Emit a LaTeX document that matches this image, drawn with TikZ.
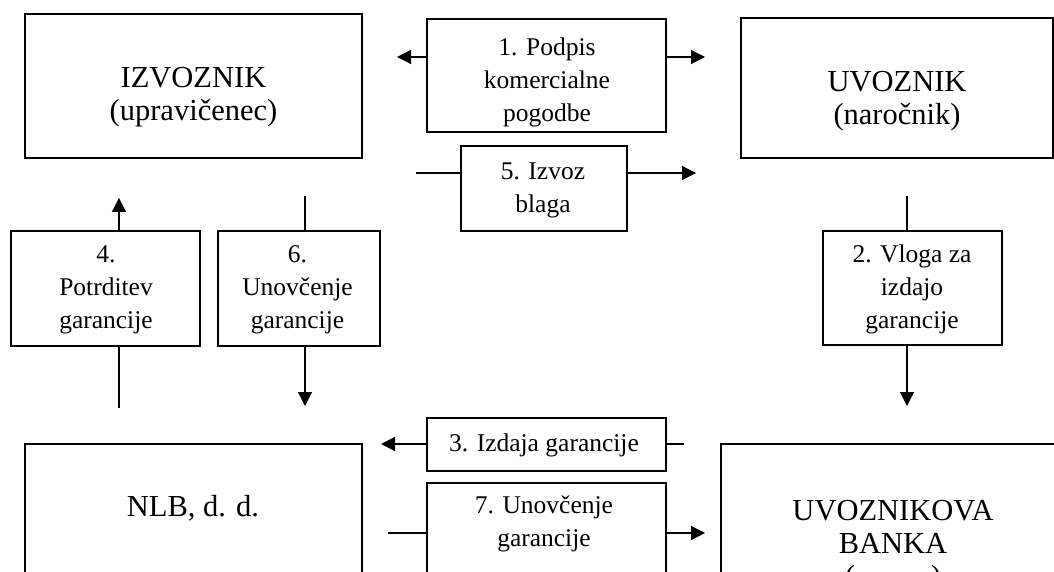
\documentclass[tikz,border=0pt]{standalone}
\usepackage{fontspec}
\setmainfont{Liberation Serif}
\usetikzlibrary{arrows.meta}
\begin{document}
\begin{tikzpicture}[x=0.5pt,y=-0.5pt,
  bigbox/.style={draw,line width=0.8pt,inner sep=0pt},
  smallbox/.style={draw,line width=0.8pt,inner sep=0pt},
  bigtxt/.style={align=center,font=\fontsize{15.25}{16.5}\selectfont,inner sep=0pt},
  smalltxt/.style={align=center,font=\fontsize{12.75}{16.5}\selectfont,inner sep=0pt},
  conn/.style={line width=0.6pt},
  arr/.style={line width=0.6pt,-{Triangle[length=7pt,width=7pt]}}]
\useasboundingbox (0,0) rectangle (1054,572);
\clip (0,0) rectangle (1054,572);
% main boxes
\node[bigbox,minimum width=168.5pt,minimum height=72pt] (izv) at (193.5,86) {};
\node[bigtxt] (izvt) at (193.5,97) {IZVOZNIK\\(upravičenec)};
\node[bigbox,minimum width=156pt,minimum height=70pt] (uvo) at (897,88) {};
\node[bigtxt] (uvot) at (897,101) {UVOZNIK\\(naročnik)};
\node[bigbox,minimum width=168.5pt,minimum height=98pt] (nlb) at (193.5,542) {};
\node[bigtxt] (nlbt) at (193,508) {NLB, d. d.};
\node[bigbox,minimum width=172pt,minimum height=103pt] (uvb) at (893,547) {};
\node[bigtxt] (uvbt) at (893,547) {UVOZNIKOVA\\BANKA\\(\phantom{garant})};
% step boxes
\node[smallbox,minimum width=119.5pt,minimum height=56.5pt] (b1) at (546.5,75.5) {};
\node[smalltxt] (b1t) at (547,82) {1. Podpis\\komercialne\\pogodbe};
\node[smallbox,minimum width=83pt,minimum height=42.5pt] (b5) at (544,188.5) {};
\node[smalltxt] (b5t) at (543,190) {5. Izvoz\\blaga};
\node[smallbox,minimum width=94.5pt,minimum height=57.5pt] (b4) at (105.5,288.5) {};
\node[smalltxt] (b4t) at (106,289.5) {4.\\Potrditev\\garancije};
\node[smallbox,minimum width=81pt,minimum height=57.5pt] (b6) at (299,288.5) {};
\node[smalltxt] (b6t) at (297.5,289.5) {6.\\Unovčenje\\garancije};
\node[smallbox,minimum width=89.5pt,minimum height=57pt] (b2) at (912.5,288) {};
\node[smalltxt] (b2t) at (912,289) {2. Vloga za\\izdajo\\garancije};
\node[smallbox,minimum width=119.5pt,minimum height=26.5pt] (b3) at (546.5,444.5) {};
\node[smalltxt] (b3t) at (544,445) {3. Izdaja garancije};
\node[smallbox,minimum width=119.5pt,minimum height=53.5pt] (b7) at (546.5,536.5) {};
\node[smalltxt] (b7t) at (544,524) {7. Unovčenje\\garancije};
% free ends
\coordinate (c1l) at (397,57);
\coordinate (c1r) at (705,57);
\coordinate (c5l) at (416,173);
\coordinate (c5r) at (696,173);
\coordinate (c4t) at (119,198);
\coordinate (c4b) at (119,408);
\coordinate (c6t) at (305,196);
\coordinate (c6b) at (305,406);
\coordinate (c2t) at (907,196);
\coordinate (c2b) at (907,406);
\coordinate (c3r) at (684,444);
\coordinate (c3l) at (381,444);
\coordinate (c7l) at (388,533);
\coordinate (c7r) at (705,533);
% connectors
\draw[arr] (c1l -| b1.west) -- (c1l);
\draw[arr] (c1r -| b1.east) -- (c1r);
\draw[conn] (c5l) -- (c5l -| b5.west);
\draw[arr] (c5r -| b5.east) -- (c5r);
\draw[arr] (c4t |- b4.north) -- (c4t);
\draw[conn] (c4b) -- (c4b |- b4.south);
\draw[conn] (c6t) -- (c6t |- b6.north);
\draw[arr] (c6b |- b6.south) -- (c6b);
\draw[conn] (c2t) -- (c2t |- b2.north);
\draw[arr] (c2b |- b2.south) -- (c2b);
\draw[conn] (c3r) -- (c3r -| b3.east);
\draw[arr] (c3l -| b3.west) -- (c3l);
\draw[conn] (c7l) -- (c7l -| b7.west);
\draw[arr] (c7r -| b7.east) -- (c7r);
\end{tikzpicture}
\end{document}
